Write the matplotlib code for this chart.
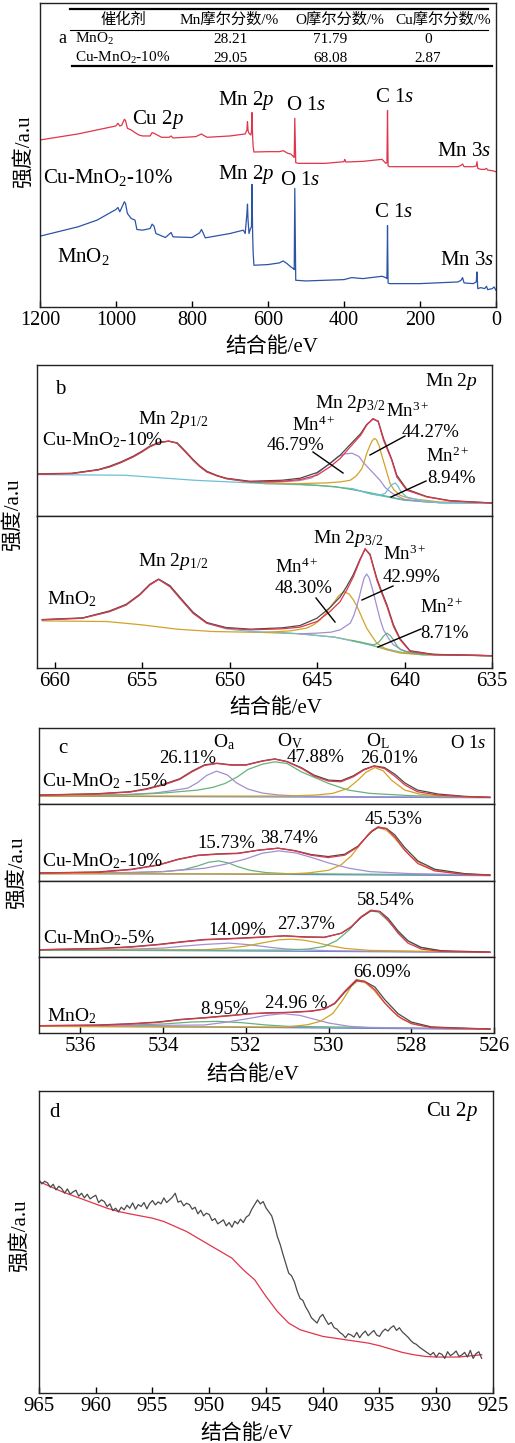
import matplotlib
matplotlib.use('Agg')
import matplotlib.pyplot as plt
from matplotlib.lines import Line2D

plt.rcParams['font.family'] = ['Liberation Serif', 'Noto Sans CJK SC']
plt.rcParams['mathtext.fontset'] = 'custom'
plt.rcParams['mathtext.rm'] = 'Liberation Serif'
plt.rcParams['mathtext.it'] = 'Liberation Serif:italic'
plt.rcParams['mathtext.default'] = 'regular'

# ---------------- data ----------------
# table (panel a)
table_header = ['催化剂', 'Mn摩尔分数/%', 'O摩尔分数/%', 'Cu摩尔分数/%']
table_rows = ['MnO$_2$', 'Cu-MnO$_2$-10%']
table_mn = ['28.21', '29.05']
table_o = ['71.79', '68.08']
table_cu = ['0', '2.87']

# panel a survey spectra
a_red_x = [1200,1100,1000,995,990,985,978,975,970,960,950,940,930,910,905,900,880,860,855,850,820,790,775,770,760,700,660,655.5,654,652.5,650,645,643.5,642,640.5,639,637,600,570,560,548,540,533,531,529.5,527,520,450,400,398,395,350,300,290,287,285.5,284,280,200,100,92,88,84,60,52,50,48,40,30,25,22,10,0]
a_red_y = [500,518,542,550,542,544,562,558,535,530,522,515,512,512,522,520,508,508,512,506,508,510,518,514,508,512,518,530,555,528,520,515,525,582,510,480,464,465,465,468,460,458,450,448,565,432,430,430,435,442,434,436,442,430,432,588,422,420,420,420,424,428,420,420,422,435,415,412,412,415,410,408,405]
a_blue_x = [1200,1100,1050,1000,995,990,978,975,970,960,950,945,930,910,905,900,895,870,855,850,800,780,775,770,765,700,665,660,655.5,654,652.5,650,646,643.5,642,640.5,639,637,600,570,560,550,540,533,531,529.5,527,500,450,400,380,350,300,290,287,285.5,284,280,200,100,92,88,84,60,52,50,48,40,30,25,22,10,5,0]
a_blue_y = [212,240,260,292,298,285,315,310,280,265,260,232,230,235,248,242,220,208,223,210,208,222,232,220,207,220,230,220,280,308,260,220,235,240,367,220,160,125,127,132,138,130,120,115,112,355,80,78,80,82,88,85,92,88,85,244,72,70,70,75,80,88,72,70,75,105,55,58,55,62,52,55,60,50]

# panel b (Mn 2p) - top: Cu-MnO2-10%
b1_env_x = [661,659,657.5,656.85,656.2,655.5,655,654.56,654,653.47,653,652.8,652.45,652.08,651.7,651.3,650.7,650.17,648.84,647,645.97,645,644.26,643.68,643.1,642.5,642.16,641.8,641.5,641.2,640.73,640.44,639.87,638.72,637.4,635]
b1_env_y = [125,127,138,147,160,177,192,207,220,224,218,207,188,167,148,132,120,112,102,104,109,122,147,172,207,242,272,292,282,227,167,117,77,57,45,39]
b1_raw_y = [126,128,139,149,162,179,194,209,221,224,219,209,190,169,150,134,121,113,104,107,113,130,157,182,214,247,274,290,284,232,170,122,80,58,46,39]
b1_p12_x = [661,659,657.5,656.85,656.2,655.5,655,654.56,654,653.47,653,652.8,652.45,652.08,651.7,651.3,650.7,650.17,649,648,646,644,642,640,638,635]
b1_p12_y = [125,127,138,147,160,177,192,207,220,224,218,207,188,167,148,132,120,111,103,99,95,88,70,48,40,39]
b1_bg_x = [661,656,652,648,645,643,642,641,640,638,635]
b1_bg_y = [124,122,107,97,92,82,67,57,47,40,39]
b1_mn4_x = [648,647,646,645.3,644.8,644.26,643.8,643.4,643,642.6,642.35,641.9,641.4,641.1,640.7,640.3,640,639,638,635]
b1_mn4_y = [100,102,106,114,135,158,178,186,188,178,160,135,107,85,68,57,50,43,40,39]
b1_mn3_x = [648,646,644.5,643.68,643.1,642.8,642.6,642.44,642.3,642.16,642,641.85,641.72,641.6,641.45,641.3,641.1,640.95,640.82,640.6,640.25,639.8,639.3,638,635]
b1_mn3_y = [97,97,99,102,107,118,130,142,162,187,208,225,232,228,210,182,147,120,97,78,62,54,50,42,39]
b1_mn2_x = [643,642,641.4,641.1,640.92,640.75,640.53,640.38,640.25,640.05,639.87,639,638,635]
b1_mn2_y = [82,67,62,68,82,93,99,90,77,65,57,45,40,39]

# panel b bottom: MnO2
b2_env_x = [660.7,658.4,656.85,655.9,655.13,654.56,654.05,653.4,652.75,652.08,651.3,650.2,648.8,647,645.97,645,644.26,643.68,643.3,642.92,642.54,642.25,641.97,641.58,641.3,641,640.63,640.25,639.68,638.34,635]
b2_env_y = [145,150,170,190,220,250,267,245,205,165,135,120,115,118,123,140,170,200,235,275,325,360,340,265,225,185,125,85,50,40,37]
b2_raw_y = [146,151,172,192,222,252,268,248,208,168,137,122,117,121,128,150,182,214,246,282,328,358,343,270,230,190,130,88,52,41,37]
b2_bg_x = [660.7,657,655,653,651,648,646,644,643,642,641,640,638,635]
b2_bg_y = [142,140,130,117,110,107,103,93,83,70,55,45,40,37]
b2_p12_x = [660.7,658.4,656.85,655.9,655.13,654.56,654.05,653.4,652.75,652.08,651.3,650.2,648.8,647,646,644,642,640,638,635]
b2_p12_y = [145,150,170,190,220,250,267,245,205,165,135,118,110,107,103,93,70,45,40,37]
b2_mn4_x = [648,646.5,645.6,645.2,644.83,644.45,644.07,643.75,643.44,643.15,642.92,642.72,642.54,642.35,642.16,641.85,641.58,641,640.25,639,635]
b2_mn4_y = [107,112,120,130,145,168,195,218,230,222,205,186,165,142,120,95,75,55,45,40,37]
b2_mn3_x = [646,645,644.2,643.68,643.1,642.9,642.73,642.58,642.44,642.3,642.16,642.02,641.87,641.72,641.58,641.4,641.2,640.9,640.63,640.2,639.87,639,635]
b2_mn3_y = [103,105,108,115,135,158,185,215,245,272,283,272,245,215,185,148,115,88,70,56,50,42,37]
b2_mn2_x = [643,642.5,642,641.77,641.55,641.4,641.2,641,640.82,640.63,640.45,640.25,639.9,639,635]
b2_mn2_y = [83,78,72,70,74,82,96,105,98,85,68,56,48,40,37]

# panel c (O 1s)
c1_env_x = [537,535.6,534.8,534.4,534,533.6,533.3,533,532.7,532.35,532,531.6,531.3,531,530.65,530.35,530,529.7,529.4,529.15,528.9,528.65,528.4,528.15,527.85,527.35,526.7,526.1]
c1_env_y = [27,30,36,44,57,74,97,116,122,117,117,129,135,127,107,84,69,67,82,102,114,107,84,57,37,27,22,20]
c1_raw_y = [27,31,37,46,59,76,99,118,123,118,118,130,136,128,109,87,72,70,85,104,115,110,90,63,42,30,23,20]
c1_oa_x = [537,535,534.2,533.8,533.4,533.16,532.95,532.71,532.45,532.23,531.95,531.6,531.2,530.5,526.1]
c1_oa_y = [26,28,33,40,48,65,86,99,88,64,45,33,27,23,20]
c1_ov_x = [537,535,534,533.16,532.8,532.5,532.2,531.95,531.6,531.3,531,530.66,530.3,530,529.53,529,528,526.1]
c1_ov_y = [25,27,33,42,50,62,82,104,120,127,122,97,78,62,42,32,25,20]
c1_ol_x = [537,531,530.3,529.9,529.53,529.29,529.1,528.88,528.68,528.48,528.16,527.8,527.3,526.1]
c1_ol_y = [24,24,27,32,47,72,95,110,100,72,42,30,24,20]
c1_bg_x = [537,533,530,526.1]
c1_bg_y = [24,22,21,19]

c2_env_x = [537,535.57,534.77,534.12,533.64,533.16,532.67,532.19,531.7,531.22,530.82,530.42,530.01,529.61,529.29,529.05,528.95,528.8,528.6,528.4,528.16,527.84,527.43,526.71,526.1]
c2_env_y = [24,26,34,47,64,76,80,82,92,98,90,77,70,77,102,137,150,162,156,132,92,52,30,20,17]
c2_raw_y = [24,27,35,48,65,77,81,83,92,98,91,79,73,80,104,136,148,160,157,138,100,60,35,22,18]
c2_oa_x = [537,535,534,533.5,533.16,532.9,532.65,532.4,532.2,531.9,531.5,531,526.1]
c2_oa_y = [22,24,28,34,45,56,60,53,43,32,25,22,18]
c2_ov_x = [537,535,534,533,532.5,532,531.6,531.2,530.8,530.4,530,529.5,529,528,526.1]
c2_ov_y = [23,25,28,38,50,66,83,90,84,70,54,38,28,22,18]
c2_ol_x = [537,531,530.5,530,529.7,529.45,529.2,529,528.82,528.6,528.4,528.2,528,527.7,527.4,527,526.1]
c2_ol_y = [22,21,24,32,48,75,115,145,160,152,128,98,72,46,32,24,17]
c2_bg_x = [537,533,530,526.1]
c2_bg_y = [22,21,19,16]

c3_env_x = [537,535.57,534.77,534.12,533.56,533,532.35,531.7,531.06,530.58,530.1,529.69,529.45,529.21,528.97,528.76,528.56,528.32,528.08,527.76,527.27,526.1]
c3_env_y = [22,25,30,37,45,52,55,59,64,60,59,72,92,122,142,137,112,72,42,24,17,14]
c3_raw_y = [22,26,31,38,46,53,56,60,64,61,60,72,91,120,140,138,117,79,49,29,19,15]
c3_oa_x = [537,535,534,533.5,533,532.4,531.9,531.4,531,530,526.1]
c3_oa_y = [21,23,27,33,38,42,37,29,24,19,14]
c3_ov_x = [537,533,532.5,532,531.5,531.2,530.9,530.6,530.3,530,529.6,529,526.1]
c3_ov_y = [20,22,26,33,45,52,54,51,44,35,26,20,14]
c3_ol_x = [537,531,530.5,530.1,529.8,529.5,529.25,529,528.8,528.6,528.35,528.1,527.8,527.4,527,526.1]
c3_ol_y = [20,21,24,32,50,82,118,140,136,114,80,50,30,20,16,14]
c3_bg_x = [537,533,530,526.1]
c3_bg_y = [21,19,17,14]

c4_env_x = [537,535.57,534.77,534.12,533.56,533,532.35,531.87,531.38,530.9,530.42,530.1,529.85,529.61,529.33,529.13,528.88,528.64,528.32,528,527.51,526.1]
c4_env_y = [22,23,27,32,40,45,52,58,60,62,65,72,90,125,160,155,130,90,50,28,16,12]
c4_raw_y = [22,24,28,33,41,46,53,58,61,62,66,72,88,122,157,155,138,100,58,33,18,12]
c4_oa_x = [537,535,534,533.3,532.7,532.1,531.5,531,526.1]
c4_oa_y = [21,23,27,33,35,31,24,20,12]
c4_ov_x = [537,533,532.5,532,531.5,531.1,530.7,530.3,530,529.5,529,526.1]
c4_ov_y = [20,24,32,42,53,58,53,40,30,20,16,12]
c4_ol_x = [537,531,530.5,530.2,529.9,529.65,529.45,529.3,529.1,528.9,528.7,528.45,528.2,527.9,527.5,527,526.1]
c4_ol_y = [20,18,25,35,58,100,140,156,150,128,98,65,40,26,18,14,12]
c4_bg_x = [537,533,530,526.1]
c4_bg_y = [20,18,15,11]

# panel d (Cu 2p): raw counts every 0.25 eV from 965 eV down to 926 eV
d_raw_y = [640,628,636,631,618,627,610,621,614,600,613,597,604,609,591,600,586,597,583,589,594,
           572,580,575,560,568,548,555,544,558,550,564,555,571,552,566,560,572,553,569,578,
           565,574,568,586,572,580,588,600,573,577,562,570,566,552,558,538,549,532,540,536,
           518,524,508,514,520,502,512,498,516,508,522,512,528,534,552,566,580,568,575,556,
           544,532,504,470,446,416,388,360,352,334,306,284,278,258,244,226,218,210,228,236,
           220,206,212,196,192,182,176,166,178,174,168,182,166,178,186,172,180,188,174,170,
           184,192,186,196,202,188,196,184,176,168,158,150,146,138,132,126,120,114,122,108,
           120,116,104,124,112,118,126,110,114,122,108,128,104,118,124,104]
d_raw_x = [965 - 0.25 * i for i in range(len(d_raw_y))]
d_fit_x = [965,963,961,959,958,957,955,954,953,952,951,950,949,948,947,946,945,944,943,942,941,940,938,936,935,934,933,932,931,930,928,926]
d_fit_y = [635,605,580,555,545,538,525,515,500,485,465,445,425,405,370,340,290,245,210,190,180,170,160,150,142,132,122,115,110,108,108,115]

a_ticks = [1200, 1000, 800, 600, 400, 200, 0]
b_ticks = [660, 655, 650, 645, 640, 635]
c_ticks = [536, 534, 532, 530, 528, 526]
d_ticks = [965, 960, 955, 950, 945, 940, 935, 930, 925]

# ---------------- styles ----------------
RED = '#e0354a'
BLUE = '#2c54a6'
BLACK = '#4a4a4a'
PURPLE = '#a48ed2'
GOLD = '#d1a326'
GREEN = '#66b27c'
CYAN = '#6cc0d6'
BGBLUE = '#5f7fd0'
XLAB = '结合能/eV'
YLAB = '强度/a.u'

W, H = 515, 1443
fig = plt.figure(figsize=(W / 100, H / 100), dpi=100)


def ax_px(l, t, r, b):
    return fig.add_axes([l / W, 1 - b / H, (r - l) / W, (b - t) / H])


def txt(x, y, s, size=14, ha='left', **kw):
    # y is the visual centre of capital letters (px from top)
    fig.text(x / W, 1 - (y + 0.46 * size) / H, s, fontsize=size, ha=ha,
             va='baseline', **kw)


def ylab(x, y, s, size=15):
    fig.text(x / W, 1 - y / H, s, fontsize=size, ha='center', va='center',
             rotation=90)


def seg(x0, y0, x1, y1, lw=1.0):
    fig.add_artist(Line2D([x0 / W, x1 / W], [1 - y0 / H, 1 - y1 / H],
                          color='black', lw=lw, transform=fig.transFigure))


def style(ax, xlim, ylim, ticks=None, size=15):
    ax.set_xlim(*xlim)
    ax.set_ylim(*ylim)
    ax.set_yticks([])
    for s in ax.spines.values():
        s.set_linewidth(1.0)
        s.set_color('#222222')
    if ticks is None:
        ax.set_xticks([])
    else:
        ax.set_xticks(ticks)
        ax.set_xticklabels([str(t) for t in ticks])
        ax.tick_params(axis='x', direction='in', length=4, width=1,
                       labelsize=size, pad=3)


LW = 0.9

# ---------------- panel a ----------------
axa = ax_px(40, 3, 496, 307)
axa.plot(a_red_x, a_red_y, color=RED, lw=LW)
axa.plot(a_blue_x, a_blue_y, color=BLUE, lw=LW)
style(axa, (1200, 0), (0, 910), a_ticks, size=14.5)

# table
seg(70, 9, 488, 9, lw=1.6)
seg(70, 29.5, 488, 29.5, lw=0.8)
seg(72, 65.5, 492, 65.5, lw=1.6)
hx = [123, 229, 340, 443]
for xx, h in zip(hx, table_header):
    txt(xx, 18.5, h, size=11, ha='center')
txt(58, 37, 'a', size=13)
row_y = [38, 57]
for i in range(2):
    txt(75, row_y[i], table_rows[i], size=11)
    txt(231, row_y[i], table_mn[i], size=11, ha='center')
    txt(330, row_y[i], table_o[i], size=11, ha='center')
    txt(428, row_y[i], table_cu[i], size=11, ha='center')

txt(132, 117, 'Cu 2$\\mathit{p}$', size=15)
txt(218, 98, 'Mn 2$\\mathit{p}$', size=15)
txt(286, 103, 'O 1$\\mathit{s}$', size=15)
txt(375, 95, 'C 1$\\mathit{s}$', size=15)
txt(437, 149, 'Mn 3$\\mathit{s}$', size=15)
txt(43, 176, 'Cu-MnO$_2$-10%', size=15)
txt(218, 172, 'Mn 2$\\mathit{p}$', size=15)
txt(280, 178, 'O 1$\\mathit{s}$', size=15)
txt(374, 210, 'C 1$\\mathit{s}$', size=15)
txt(57, 255, 'MnO$_2$', size=15)
txt(440, 258, 'Mn 3$\\mathit{s}$', size=15)
txt(272, 345, XLAB, size=15, ha='center')
ylab(24, 152, YLAB)

# ---------------- panel b ----------------
axb1 = ax_px(37, 365, 492, 516)
axb1.plot(b1_bg_x, b1_bg_y, color=CYAN, lw=LW)
axb1.plot(b1_p12_x, b1_p12_y, color=GREEN, lw=LW)
axb1.plot(b1_mn4_x, b1_mn4_y, color=PURPLE, lw=LW)
axb1.plot(b1_mn3_x, b1_mn3_y, color=GOLD, lw=LW)
axb1.plot(b1_mn2_x, b1_mn2_y, color=CYAN, lw=LW)
axb1.plot(b1_env_x, b1_raw_y, color=BLACK, lw=LW)
axb1.plot(b1_env_x, b1_env_y, color=RED, lw=LW)
style(axb1, (661, 635), (0, 452))

axb2 = ax_px(37, 516, 492, 668)
axb2.plot(b2_bg_x, b2_bg_y, color=GOLD, lw=LW)
axb2.plot(b2_p12_x, b2_p12_y, color=CYAN, lw=LW)
axb2.plot(b2_mn4_x, b2_mn4_y, color=GOLD, lw=LW)
axb2.plot(b2_mn3_x, b2_mn3_y, color=PURPLE, lw=LW)
axb2.plot(b2_mn2_x, b2_mn2_y, color=GREEN, lw=LW)
axb2.plot(b2_env_x, b2_raw_y, color=BLACK, lw=LW)
axb2.plot(b2_env_x, b2_env_y, color=RED, lw=LW)
style(axb2, (661, 635), (0, 458), b_ticks)

txt(55, 387, 'b', size=15)
txt(425, 380, 'Mn 2$\\mathit{p}$', size=14)
txt(138, 418, 'Mn 2$\\mathit{p}_{1/2}$', size=14)
txt(42, 439, 'Cu-MnO$_2$-10%', size=14)
txt(315, 402, 'Mn 2$\\mathit{p}_{3/2}$', size=14)
txt(292, 425, 'Mn$^{4+}$', size=13.5)
txt(267, 444, '46.79%', size=13.5)
txt(386, 411, 'Mn$^{3+}$', size=13.5)
txt(402, 431, '44.27%', size=13.5)
txt(426, 456, 'Mn$^{2+}$', size=13.5)
txt(427, 477, '8.94%', size=13.5)
seg(313, 452, 343, 473)
seg(405, 436, 370, 455)
seg(426, 481, 391, 497)

txt(138, 560, 'Mn 2$\\mathit{p}_{1/2}$', size=14)
txt(47, 598, 'MnO$_2$', size=14)
txt(313, 537, 'Mn 2$\\mathit{p}_{3/2}$', size=14)
txt(275, 567, 'Mn$^{4+}$', size=13.5)
txt(275, 587, '48.30%', size=13.5)
txt(383, 554, 'Mn$^{3+}$', size=13.5)
txt(383, 576, '42.99%', size=13.5)
txt(420, 607, 'Mn$^{2+}$', size=13.5)
txt(420, 632, '8.71%', size=13.5)
seg(316, 598, 335, 622)
seg(393, 586, 362, 600)
seg(421, 629, 378, 647)
txt(276, 706, XLAB, size=15, ha='center')
ylab(13, 515, YLAB)

# ---------------- panel c ----------------
c_bounds = [(728, 804), (804, 881), (881, 957), (957, 1033)]
c_ylims = [229, 230, 230, 228]
c_sets = [
    (c1_env_x, c1_env_y, c1_raw_y, [(c1_oa_x, c1_oa_y, PURPLE), (c1_ov_x, c1_ov_y, GREEN), (c1_ol_x, c1_ol_y, GOLD)], (c1_bg_x, c1_bg_y)),
    (c2_env_x, c2_env_y, c2_raw_y, [(c2_oa_x, c2_oa_y, GREEN), (c2_ov_x, c2_ov_y, PURPLE), (c2_ol_x, c2_ol_y, GOLD)], (c2_bg_x, c2_bg_y)),
    (c3_env_x, c3_env_y, c3_raw_y, [(c3_oa_x, c3_oa_y, PURPLE), (c3_ov_x, c3_ov_y, GOLD), (c3_ol_x, c3_ol_y, GREEN)], (c3_bg_x, c3_bg_y)),
    (c4_env_x, c4_env_y, c4_raw_y, [(c4_oa_x, c4_oa_y, GREEN), (c4_ov_x, c4_ov_y, PURPLE), (c4_ol_x, c4_ol_y, GOLD)], (c4_bg_x, c4_bg_y)),
]
for i, ((t, b), yl, (ex, ey, ry, comps, bg)) in enumerate(zip(c_bounds, c_ylims, c_sets)):
    ax = ax_px(39, t, 494, b)
    ax.plot(bg[0], bg[1], color=BGBLUE, lw=LW)
    for cx, cy, col in comps:
        ax.plot(cx, cy, color=col, lw=LW)
    ax.plot(ex, ry, color=BLACK, lw=LW)
    ax.plot(ex, ey, color=RED, lw=LW)
    style(ax, (537, 526), (0, yl), c_ticks if i == 3 else None)

txt(58, 746, 'c', size=15)
txt(213, 741, 'O$_a$', size=14)
txt(159, 757, '26.11%', size=13.5)
txt(277, 740, 'O$_V$', size=14)
txt(287, 756, '47.88%', size=13.5)
txt(366, 740, 'O$_L$', size=14)
txt(360, 757, '26.01%', size=13.5)
txt(450, 742, 'O 1$\\mathit{s}$', size=13.5)
txt(42, 780, 'Cu-MnO$_2$ -15%', size=14)
txt(197, 842, '15.73%', size=13.5)
txt(260, 837, '38.74%', size=13.5)
txt(365, 818, '45.53%', size=13.5)
txt(42, 860, 'Cu-MnO$_2$-10%', size=14)
txt(208, 929, '14.09%', size=13.5)
txt(277, 923, '27.37%', size=13.5)
txt(357, 899, '58.54%', size=13.5)
txt(43, 937, 'Cu-MnO$_2$-5%', size=14)
txt(200, 1008, '8.95%', size=13.5)
txt(265, 1002, '24.96 %', size=13.5)
txt(353, 971, '66.09%', size=13.5)
txt(47, 1015, 'MnO$_2$', size=14)
txt(253, 1073, XLAB, size=15, ha='center')
ylab(17, 873, YLAB)

# ---------------- panel d ----------------
axd = ax_px(39, 1091, 493, 1393)
axd.plot(d_fit_x, d_fit_y, color=RED, lw=LW)
axd.plot(d_raw_x, d_raw_y, color=BLACK, lw=LW)
style(axd, (965, 925), (0, 907), d_ticks)
txt(49, 1110, 'd', size=15)
txt(426, 1109, 'Cu 2$\\mathit{p}$', size=15)
txt(247, 1432, XLAB, size=15, ha='center')
ylab(20, 1236, YLAB)

fig.savefig('out.png', dpi=100)
